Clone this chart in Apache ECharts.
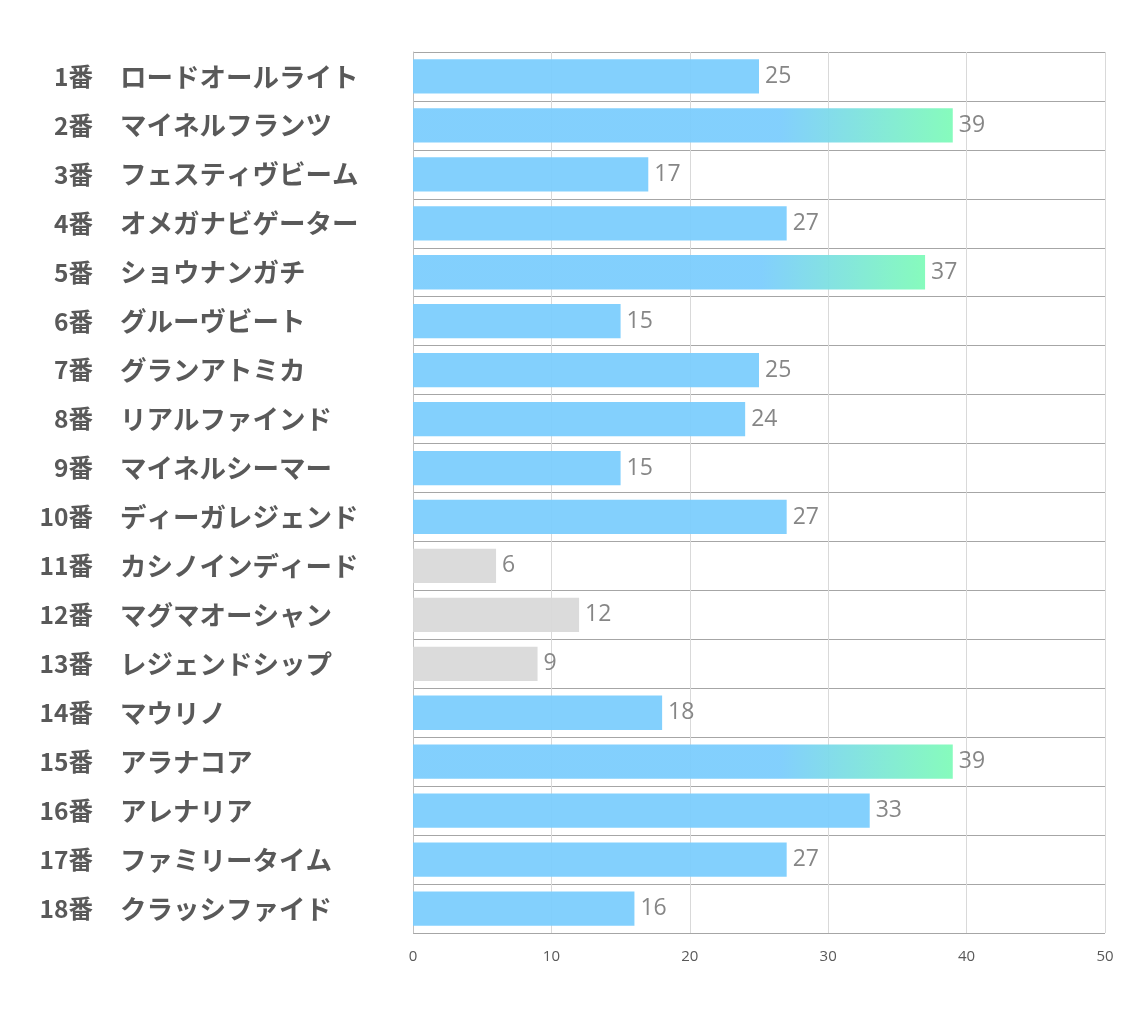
<!DOCTYPE html>
<html>
<head>
<meta charset="utf-8">
<script src="https://cdn.jsdelivr.net/npm/echarts@6/dist/echarts.min.js"></script>
<style>
  html, body { margin: 0; padding: 0; background: #fff; }
  #chart { width: 1134px; height: 1020px; }
</style>
</head>
<body>
<div id="chart"></div>
<script>
// data
var numbers = ['1番', '2番', '3番', '4番', '5番', '6番', '7番', '8番', '9番', '10番',
               '11番', '12番', '13番', '14番', '15番', '16番', '17番', '18番'];
var horses = ['ロードオールライト', 'マイネルフランツ', 'フェスティヴビーム', 'オメガナビゲーター',
              'ショウナンガチ', 'グルーヴビート', 'グランアトミカ', 'リアルファインド',
              'マイネルシーマー', 'ディーガレジェンド', 'カシノインディード', 'マグマオーシャン',
              'レジェンドシップ', 'マウリノ', 'アラナコア', 'アレナリア', 'ファミリータイム',
              'クラッシファイド'];
var scores = [25, 39, 17, 27, 37, 15, 25, 24, 15, 27, 6, 12, 9, 18, 39, 33, 27, 16];
var highlighted = [2, 5, 15];      // gradient bars
var greyed = [11, 12, 13];         // grey bars

var blue = '#7ccdfd';
var grey = '#d9d9d9';
var gradient = new echarts.graphic.LinearGradient(0, 0, 1, 0, [
    { offset: 0, color: blue },
    { offset: 0.68, color: blue },
    { offset: 1, color: '#80fbb9' }
]);

var barData = scores.map(function (v, i) {
    var no = i + 1;
    var color = blue;
    if (highlighted.indexOf(no) >= 0) color = gradient;
    if (greyed.indexOf(no) >= 0) color = grey;
    return { value: v, itemStyle: { color: color } };
});

var labelFont = { fontWeight: 'bold', color: '#595959', fontFamily: 'Noto Sans CJK JP' };

var chart = echarts.init(document.getElementById('chart'));
chart.setOption({
    animation: false,
    backgroundColor: '#fff',
    grid: { left: 413, right: 29, top: 52, bottom: 87 },
    xAxis: {
        type: 'value',
        min: 0,
        max: 50,
        interval: 10,
        axisLine: { show: false },
        axisTick: { show: false },
        axisLabel: { color: '#595959', fontSize: 15, margin: 16, fontFamily: 'Open Sans' },
        splitLine: { lineStyle: { color: '#d9d9d9', width: 1 } }
    },
    yAxis: [{
        // numbers, right aligned
        type: 'category',
        inverse: true,
        data: numbers,
        axisLine: { show: true, lineStyle: { color: '#bfbfbf' } },
        axisTick: { show: false },
        splitLine: { show: true, lineStyle: { color: '#a6a6a6', width: 1 } },
        axisLabel: Object.assign({ align: 'right', margin: 320, fontSize: 24.5 }, labelFont)
    }, {
        // horse names, left aligned
        type: 'category',
        position: 'left',
        inverse: true,
        data: horses,
        axisLine: { show: false },
        axisTick: { show: false },
        splitLine: { show: false },
        axisLabel: Object.assign({ align: 'left', margin: 293, fontSize: 26.5 }, labelFont)
    }],
    series: [{
        type: 'bar',
        yAxisIndex: 0,
        data: barData,
        barCategoryGap: '30%',
        itemStyle: { opacity: 0.95 },
        label: {
            show: true,
            position: 'right',
            distance: 6,
            color: '#7f7f7f',
            fontSize: 23,
            fontFamily: 'Open Sans'
        }
    }]
});
</script>
</body>
</html>
